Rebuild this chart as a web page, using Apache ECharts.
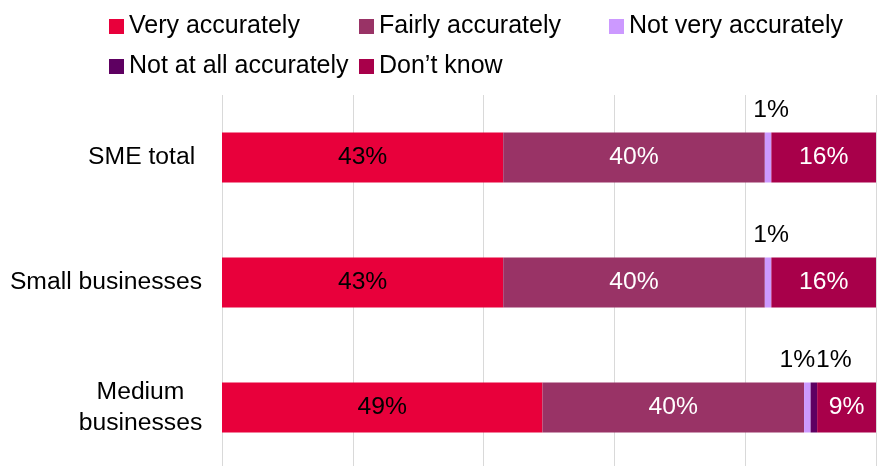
<!DOCTYPE html>
<html>
<head>
<meta charset="utf-8">
<script src="https://cdn.jsdelivr.net/npm/echarts@6/dist/echarts.min.js"></script>
<style>
  html, body { margin: 0; padding: 0; background: #ffffff; overflow: hidden; }
  #chart { width: 878px; height: 470px; }
</style>
</head>
<body>
<div id="chart"></div>
<script>
// Categories (top to bottom) and response shares in percent
const categories = ['SME total ', 'Small businesses', 'Medium\nbusinesses'];
const veryAccurately = [43, 43, 49];
const fairlyAccurately = [40, 40, 40];
const notVeryAccurately = [1, 1, 1];
const notAtAllAccurately = [0, 0, 1];
const dontKnow = [16, 16, 9];

const seriesNames = ['Very accurately', 'Fairly accurately', 'Not very accurately', 'Not at all accurately', 'Don\u2019t know'];
const seriesColors = ['#E8003B', '#993366', '#CC99FF', '#5E0061', '#A8004A'];
const seriesValues = [veryAccurately, fairlyAccurately, notVeryAccurately, notAtAllAccurately, dontKnow];

const FONT = '"Liberation Sans", Arial, sans-serif';
const FS = 24.7;
const LEGEND_FS = 25;

// Small segments carry their label above the bar, nudged sideways
const aboveOffsets = {
  2: [[3, 0], [3, 0], [-10, 0]],
  3: [[20, 0], [20, 0], [20, 0]]
};

function buildSeries(idx) {
  const values = seriesValues[idx];
  const above = aboveOffsets[idx] !== undefined;
  const data = values.map((v, i) => {
    const item = { value: v };
    if (above) {
      item.label = { offset: aboveOffsets[idx][i] };
    }
    return item;
  });
  return {
    name: seriesNames[idx],
    type: 'bar',
    stack: 'total',
    barWidth: 50,
    itemStyle: { color: seriesColors[idx] },
    label: {
      show: true,
      position: above ? 'top' : 'inside',
      distance: 10,
      fontFamily: FONT,
      fontSize: FS,
      color: (idx === 0 || above) ? '#000000' : '#FFFFFF',
      formatter: p => (p.value > 0 ? p.value + '%' : '')
    },
    emphasis: { disabled: true },
    data: data
  };
}

// One legend block per item so they sit in fixed columns
const legendSlots = [
  { name: seriesNames[0], left: 109, top: 14 },
  { name: seriesNames[1], left: 359, top: 14 },
  { name: seriesNames[2], left: 609, top: 14 },
  { name: seriesNames[3], left: 109, top: 54 },
  { name: seriesNames[4], left: 359, top: 54 }
];

const option = {
  animation: false,
  backgroundColor: '#ffffff',
  legend: legendSlots.map(s => ({
    data: [s.name],
    left: s.left,
    top: s.top,
    padding: 0,
    icon: 'rect',
    itemWidth: 15,
    itemHeight: 15,
    selectedMode: false,
    textStyle: { fontFamily: FONT, fontSize: LEGEND_FS, color: '#000000' }
  })),
  grid: { left: 222, right: 2, top: 95, bottom: 0, containLabel: false },
  xAxis: {
    type: 'value',
    min: 0,
    max: 100,
    interval: 20,
    axisLabel: { show: false },
    axisLine: { show: false },
    axisTick: { show: false },
    splitLine: { show: true, lineStyle: { color: '#D9D9D9', width: 1 } }
  },
  yAxis: {
    type: 'category',
    inverse: true,
    data: categories,
    axisLine: { show: false },
    axisTick: { show: false },
    axisLabel: {
      margin: 20,
      fontFamily: FONT,
      fontSize: FS,
      color: '#000000',
      lineHeight: 31,
      formatter: v => v.indexOf('\n') >= 0
        ? v.split('\n').map(l => '{c|' + l + '}').join('\n')
        : v,
      rich: {
        c: { width: 123, align: 'center', fontFamily: FONT, fontSize: FS, color: '#000000', lineHeight: 31 }
      }
    }
  },
  series: seriesValues.map((_, i) => buildSeries(i))
};

const chart = echarts.init(document.getElementById('chart'), null, { renderer: 'canvas' });
chart.setOption(option);
</script>
</body>
</html>
